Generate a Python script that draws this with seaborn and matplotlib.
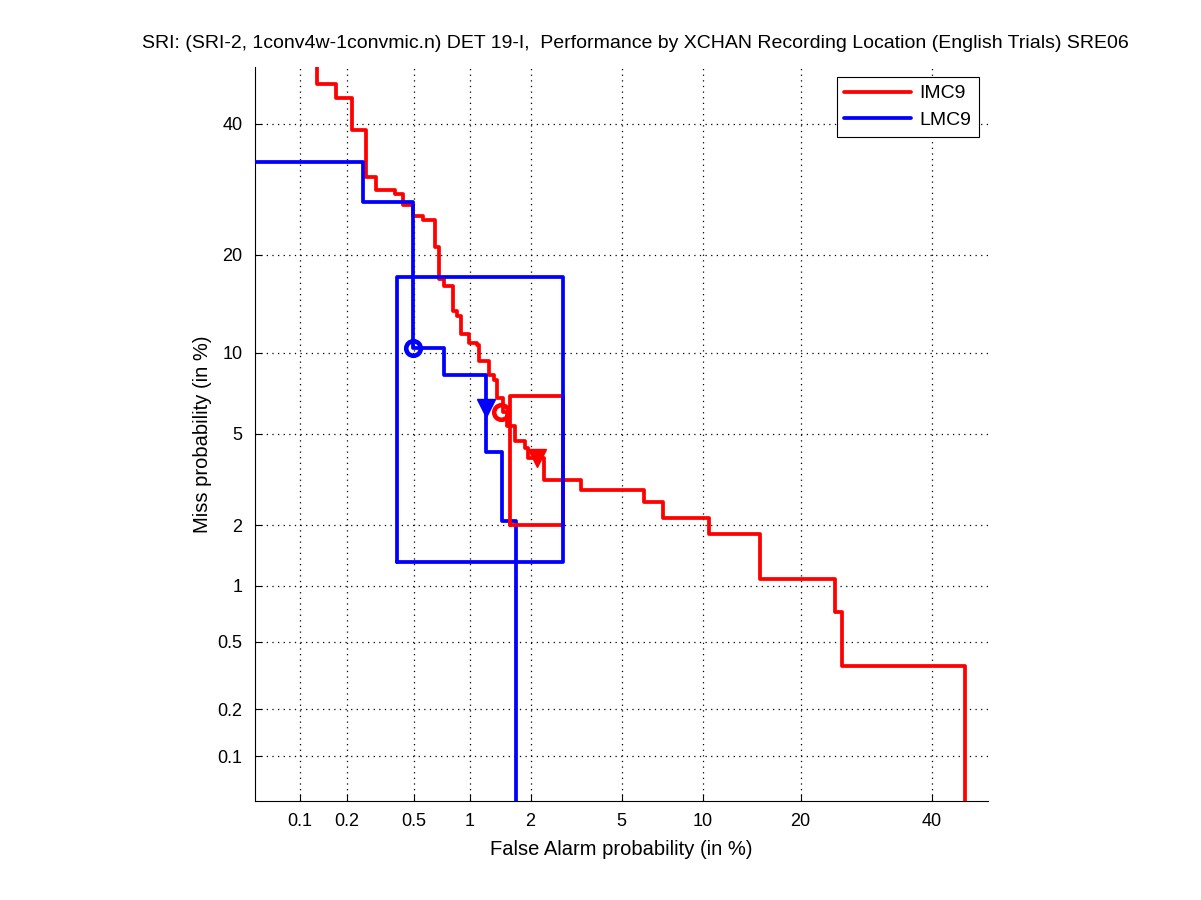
import numpy as np
import pandas as pd
import matplotlib
matplotlib.use("Agg")
import matplotlib.pyplot as plt
import seaborn as sns
from statistics import NormalDist

# ---------------- data (percent) ----------------
tick_values = [0.1, 0.2, 0.5, 1, 2, 5, 10, 20, 40]
tick_labels = ["0.1", "0.2", "0.5", "1", "2", "5", "10", "20", "40"]
axis_limits = [0.05, 50]

# step curves: each point = (false alarm %, miss %), drawn as "steps-pre"
imc9_fa = [0.13, 0.172, 0.215, 0.26, 0.30, 0.39, 0.43, 0.49, 0.56, 0.65,
           0.69, 0.73, 0.82, 0.86, 0.90, 0.99, 1.09, 1.12, 1.25, 1.33,
           1.38, 1.47, 1.54, 1.69, 1.89, 1.95, 2.3, 3.39, 6.1, 7.2,
           10.5, 15.3, 24.6, 25.6, 45.8, 45.8]
imc9_miss = [55.0, 47.0, 44.5, 38.8, 31.1, 29.0, 28.4, 26.8, 25.2, 24.7,
             21.0, 17.1, 16.3, 13.7, 13.2, 11.6, 10.8, 10.6, 9.4, 8.4,
             8.0, 6.9, 6.1, 5.4, 4.7, 4.4, 4.0, 3.2, 2.9, 2.55,
             2.17, 1.82, 1.09, 0.73, 0.36, 0.04]

lmc9_fa = [0.04, 0.25, 0.49, 0.73, 1.21, 1.45, 1.70, 1.70]
lmc9_miss = [33.5, 33.5, 27.2, 10.4, 8.4, 4.2, 2.09, 0.04]

# confidence boxes  [low, high]
imc9_box_fa = [1.60, 2.81]
imc9_box_miss = [2.01, 7.0]
lmc9_box_fa = [0.40, 2.81]
lmc9_box_miss = [1.32, 17.3]

# operating points: actual decision (circle) and minimum cost (triangle)
imc9_act = [1.44, 6.1]
imc9_min = [2.15, 4.0]
lmc9_act = [0.49, 10.4]
lmc9_min = [1.21, 6.3]

title_text = ("SRI: (SRI-2, 1conv4w-1convmic.n) DET 19-I,  Performance by XCHAN "
              "Recording Location (English Trials) SRE06")

# ---------------- style ----------------
sns.set_theme(style="white")
plt.rcParams["font.family"] = ["Liberation Sans", "DejaVu Sans"]
plt.rcParams["axes.edgecolor"] = "black"
plt.rcParams["axes.linewidth"] = 0.8
plt.rcParams["text.color"] = "black"
plt.rcParams["axes.labelcolor"] = "black"
plt.rcParams["xtick.color"] = "black"
plt.rcParams["ytick.color"] = "black"

_nd = NormalDist()
_ppf = np.vectorize(_nd.inv_cdf, otypes=[float])
_cdf = np.vectorize(_nd.cdf, otypes=[float])


def fwd(p):
    p = np.clip(np.asarray(p, dtype=float) / 100.0, 1e-9, 1 - 1e-9)
    return _ppf(p)


def inv(z):
    z = np.asarray(z, dtype=float)
    return _cdf(z) * 100.0


fig = plt.figure(figsize=(12.01, 9.0), dpi=100)
ax = fig.add_axes([255 / 1201, 1 - 801 / 900, 733 / 1201, 734 / 900])
ax.set_xscale("function", functions=(fwd, inv))
ax.set_yscale("function", functions=(fwd, inv))

RED = "#ff0000"
BLUE = "#0000ff"
LW = 2.7

df_imc = pd.DataFrame({"fa": imc9_fa, "miss": imc9_miss})
df_lmc = pd.DataFrame({"fa": lmc9_fa, "miss": lmc9_miss})

sns.lineplot(data=df_imc, x="fa", y="miss", sort=False, estimator=None,
             color=RED, lw=LW, drawstyle="steps-pre", ax=ax, zorder=3)
sns.lineplot(data=df_lmc, x="fa", y="miss", sort=False, estimator=None,
             color=BLUE, lw=LW, drawstyle="steps-pre", ax=ax, zorder=3)
h_imc, h_lmc = ax.lines[0], ax.lines[1]


def box(fa, miss, color):
    bx = [fa[0], fa[1], fa[1], fa[0], fa[0]]
    by = [miss[0], miss[0], miss[1], miss[1], miss[0]]
    sns.lineplot(x=bx, y=by, sort=False, estimator=None, color=color,
                 lw=LW, ax=ax, zorder=4)


box(imc9_box_fa, imc9_box_miss, RED)
box(lmc9_box_fa, lmc9_box_miss, BLUE)

ax.plot([lmc9_min[0]], [lmc9_min[1]], marker="v", ms=13, color=BLUE,
        ls="none", zorder=5)
ax.plot([lmc9_act[0]], [lmc9_act[1]], marker="o", ms=10.5, mfc="none", mec=BLUE,
        mew=3.3, ls="none", zorder=5)
ax.plot([imc9_min[0]], [imc9_min[1]], marker="v", ms=13, color=RED,
        ls="none", zorder=6)
ax.plot([imc9_act[0]], [imc9_act[1]], marker="o", ms=10.5, mfc="none", mec=RED,
        mew=3.3, ls="none", zorder=6)

ax.set_xlim(axis_limits)
ax.set_ylim(axis_limits)
ax.set_xticks(tick_values)
ax.set_xticklabels(tick_labels)
ax.set_yticks(tick_values)
ax.set_yticklabels(tick_labels)
ax.minorticks_off()
ax.tick_params(direction="in", length=5, width=0.8, pad=9, labelsize=13,
               colors="black", left=True, bottom=True)
ax.grid(True, color="black", ls=(0, (1, 3.5)), lw=0.9)
ax.set_axisbelow(True)
sns.despine(ax=ax, top=True, right=True)

ax.set_xlabel("False Alarm probability (in %)", fontsize=14.5, labelpad=7)
ax.set_ylabel("Miss probability (in %)", fontsize=14.5, labelpad=4)
fig.text(635 / 1201, 1 - 44 / 900, title_text, ha="center", va="center",
         fontsize=14)

leg = ax.legend([h_imc, h_lmc], ["IMC9", "LMC9"], loc="upper right",
                bbox_to_anchor=(979 / 1201, 1 - 77 / 900),
                bbox_transform=fig.transFigure, fontsize=14, frameon=True,
                fancybox=False, framealpha=1, edgecolor="black",
                handlelength=3.4, borderpad=0.4, labelspacing=0.45,
                handletextpad=0.45, borderaxespad=0)
leg.get_frame().set_linewidth(0.8)

fig.savefig("out.png", dpi=100)
